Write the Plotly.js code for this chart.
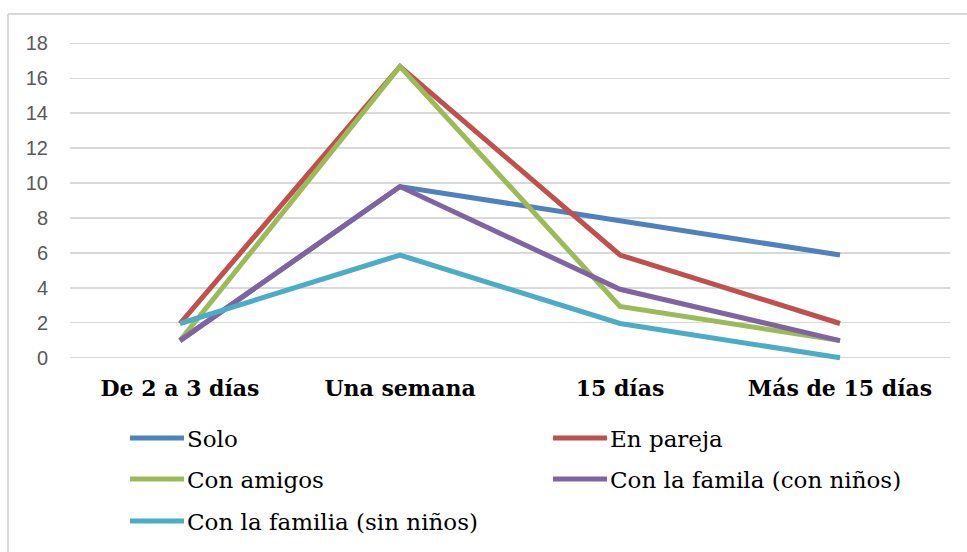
<!DOCTYPE html>
<html>
<head>
<meta charset="utf-8">
<script src="https://cdn.plot.ly/plotly-3.0.1.min.js"></script>
<style>html,body{margin:0;padding:0;background:#fff;}#chart{width:967px;height:552px;}</style>
</head>
<body>
<div id="chart"></div>
<script>
const categories = ["De 2 a 3 días", "Una semana", "15 días", "Más de 15 días"];
const seriesNames = ["Solo", "En pareja", "Con amigos", "Con la famila (con niños)", "Con la familia (sin niños)"];
const solo = [0.98, 9.8, 7.84, 5.88];
const enPareja = [1.96, 16.67, 5.88, 1.96];
const conAmigos = [0.98, 16.67, 2.94, 0.98];
const conNinos = [0.98, 9.8, 3.92, 0.98];
const sinNinos = [1.96, 5.88, 1.96, 0];
const yTicks = [0, 2, 4, 6, 8, 10, 12, 14, 16, 18];
const colors = ["#4F81BD", "#C0504D", "#9BBB59", "#8064A2", "#4BACC6"];

const values = [solo, enPareja, conAmigos, conNinos, sinNinos];
const traces = values.map((v, i) => ({
  type: "scatter", mode: "lines", x: categories, y: v, name: seriesNames[i],
  line: {color: colors[i], width: 5}, showlegend: false, hoverinfo: "x+y+name"
}));

const W = 967, H = 552;
const px = x => (x - 70) / 880;
const py = y => (552 - 189 - y) / 325;
const serif = "'DejaVu Serif', serif";

// chart frame (top and left edges)
const shapes = [
  {type: "line", xref: "paper", yref: "paper", x0: px(8), x1: px(967), y0: py(14), y1: py(14),
   line: {color: "#D9D9D9", width: 2}},
  {type: "line", xref: "paper", yref: "paper", x0: px(8), x1: px(8), y0: py(14), y1: py(560),
   line: {color: "#D9D9D9", width: 2}}
];
// manual legend (2 columns)
const legendPos = [[130, 438], [553, 438], [130, 479], [553, 479], [130, 521]];
const annotations = [];
legendPos.forEach((p, i) => {
  shapes.push({type: "line", xref: "paper", yref: "paper", x0: px(p[0]), x1: px(p[0] + 54),
    y0: py(p[1]), y1: py(p[1]), line: {color: colors[i], width: 5}});
  annotations.push({xref: "paper", yref: "paper", x: px(p[0] + 55), y: py(p[1] + 1), xanchor: "left", yanchor: "middle",
    text: seriesNames[i], showarrow: false, font: {family: serif, size: 23, color: "#000"}});
});

const layout = {
  width: W, height: H,
  margin: {l: 70, r: 17, t: 38, b: 189},
  paper_bgcolor: "#fff", plot_bgcolor: "#fff",
  showlegend: false,
  xaxis: {type: "category", range: [-0.5, 3.5], showgrid: false, zeroline: false, showline: false,
    ticks: "", ticklabelstandoff: 10,
    tickfont: {family: serif, size: 22, color: "#000", weight: "bold"}},
  yaxis: {range: [-0.3, 18.3], tickvals: yTicks, ticktext: yTicks.map(String), showgrid: true,
    gridcolor: "#D9D9D9", gridwidth: 1.3, zeroline: false, showline: false, ticks: "",
    ticklabelstandoff: 21, tickfont: {family: "'Liberation Sans', Arial, sans-serif", size: 20, color: "#595959"}},
  shapes: shapes, annotations: annotations
};
Plotly.newPlot("chart", traces, layout, {displayModeBar: false, staticPlot: true});
</script>
</body>
</html>
